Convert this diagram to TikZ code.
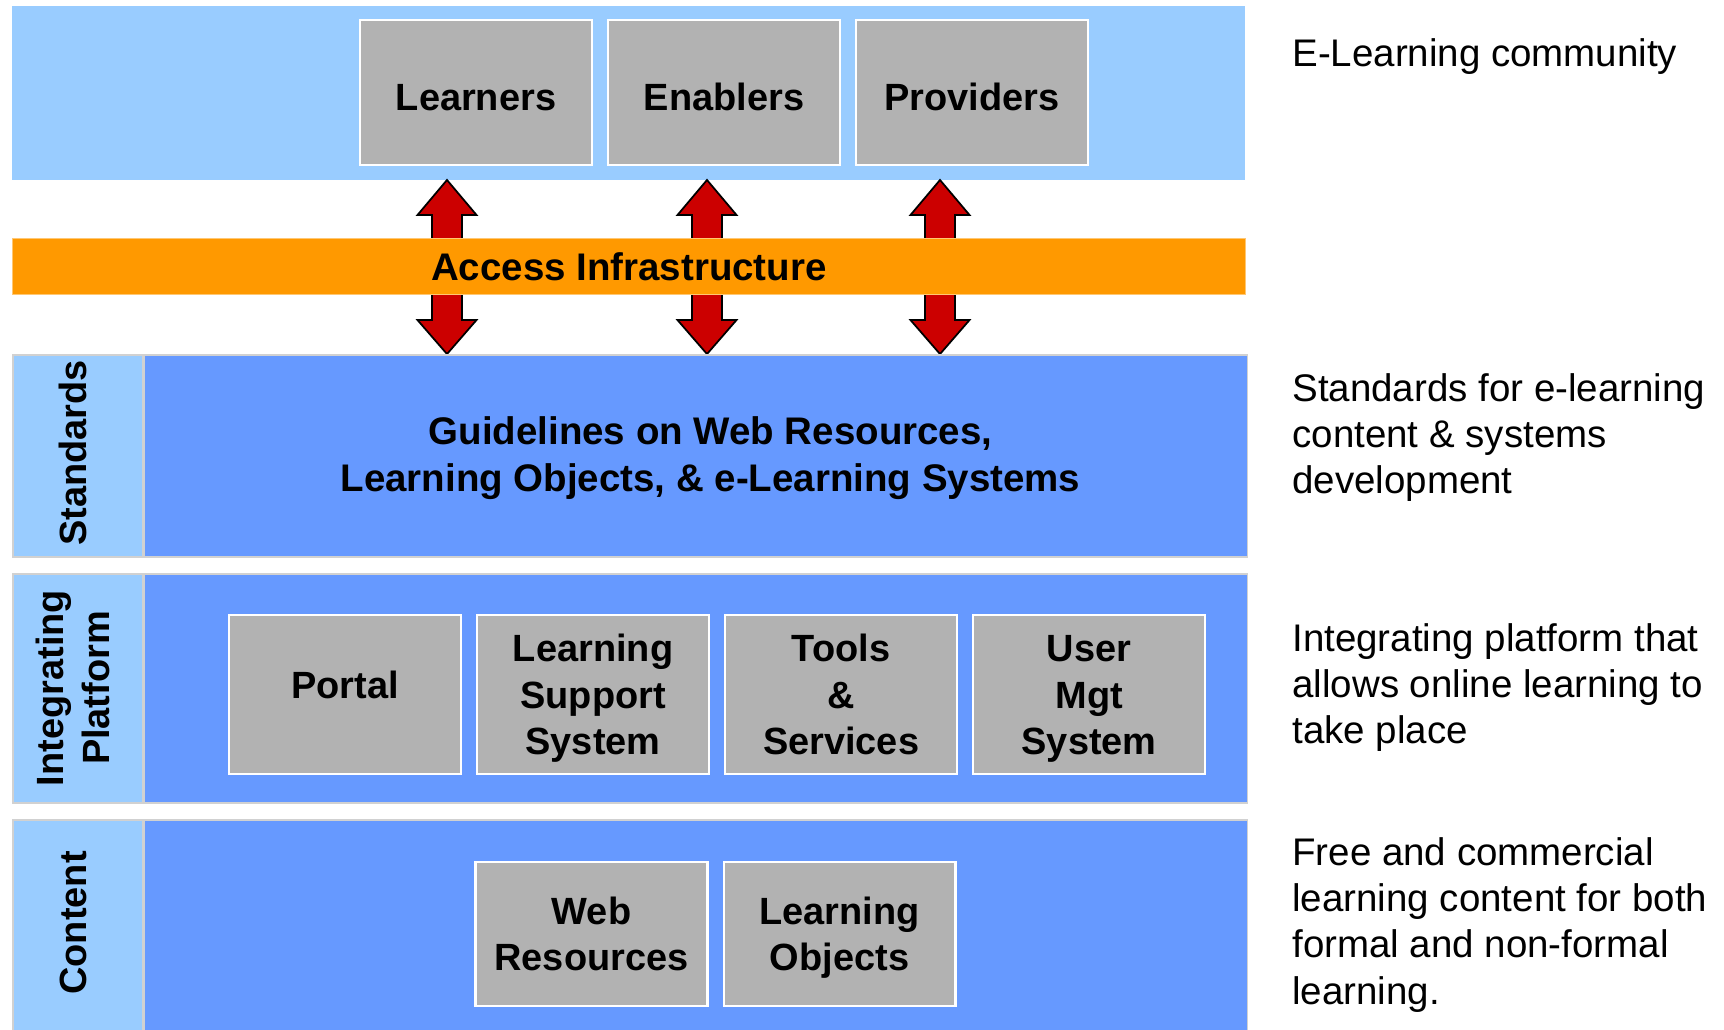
\documentclass[tikz,border=0pt]{standalone}
\usepackage{fontspec}
\setmainfont{Liberation Sans}
\usetikzlibrary{positioning,calc}
\definecolor{skyblue}{HTML}{99CCFF}
\definecolor{bandblue}{HTML}{6699FF}
\definecolor{boxgray}{HTML}{B2B2B2}
\definecolor{accorange}{HTML}{FF9900}
\definecolor{arrowred}{HTML}{CC0000}
\newcommand\topstrut{\rule{0pt}{20.4pt}}
\newcommand\botstrut{\rule[-5pt]{0pt}{5pt}}

\begin{document}
\begin{tikzpicture}[x=0.02cm, y=-0.02cm, node distance=0.28cm,
  band/.style={anchor=north west, inner sep=0pt, minimum width=24.66cm},
  side/.style={anchor=north west, inner sep=0pt, minimum width=2.6cm, fill=skyblue, draw=black!18, line width=1pt},
  main/.style={anchor=north west, inner sep=0pt, minimum width=22.06cm, fill=bandblue, draw=black!18, line width=1pt},
  gbox/.style={fill=boxgray, draw=white, line width=1.2pt, minimum width=4.64cm, inner sep=0pt, align=center,
    font=\fontsize{21.6}{26.6}\selectfont\bfseries},
  sidelbl/.style={rotate=90, align=center, inner sep=0pt, font=\fontsize{21.6}{26.6}\selectfont\bfseries},
  note/.style={anchor=west, align=left, inner sep=0pt, font=\fontsize{21.9}{26.2}\selectfont},
  uparr/.pic={\filldraw[fill=arrowred, draw=black, line width=1pt, line join=miter]
    (-15,0) -- (-15,-23) -- (-29.5,-23) -- (0,-58) -- (29.5,-23) -- (15,-23) -- (15,0);},
  downarr/.pic={\filldraw[fill=arrowred, draw=black, line width=1pt, line join=miter]
    (-15,0) -- (-15,25) -- (-29.5,25) -- (0,59) -- (29.5,25) -- (15,25) -- (15,0);}]
\useasboundingbox[fill=white] (0,0) rectangle (1724,1030);

\node[band, minimum height=3.48cm, fill=skyblue] (comm) at (12,6) {};
\node[gbox, minimum height=2.9cm, text height=20.4pt, text depth=0pt] (learners) at (476,92.5) {Learners};
\node[gbox, minimum height=2.9cm, text height=20.4pt, text depth=0pt, right=of learners] (enablers) {Enablers};
\node[gbox, minimum height=2.9cm, text height=20.4pt, text depth=0pt, right=of enablers] (providers) {Providers};

\node[band, minimum height=1.12cm, fill=accorange, draw=accorange!55!white, line width=0.6pt] (acc) at (12,238) {};
\node[inner sep=0pt, font=\fontsize{21.9}{26}\selectfont\bfseries] (acclbl) at (acc) {Access Infrastructure};
\foreach \ax in {447,707,940} {
  \pic at (\ax,0 |- acc.north) {uparr};
  \pic at (\ax,0 |- acc.south) {downarr};
}

\node[side, minimum height=4.04cm] (stdside) at (12,354) {};
\node[main, minimum height=4.04cm] (stdmain) at (stdside.north east) {};
\node[sidelbl] (stdlbl) at (73,453) {Standards};
\node[xshift=0.29cm, yshift=-0.04cm, align=center, inner sep=0pt, font=\fontsize{21.9}{26.8}\selectfont\bfseries] (guide) at (stdmain) {Guidelines on Web Resources,\\Learning Objects, \& e-Learning Systems};

\node[side, minimum height=4.58cm] (intside) at (12,573) {};
\node[main, minimum height=4.58cm] (intmain) at (intside.north east) {};
\node[sidelbl] (intlbl) at (73,688) {Integrating\\Platform};
\node[gbox, minimum height=3.18cm, text height=15.5pt, text depth=10.9pt] (portal) at (345,694.5) {Portal};
\node[gbox, minimum height=3.18cm, right=of portal] (lss) {\topstrut Learning\\Support\\System\botstrut};
\node[gbox, minimum height=3.18cm, right=of lss] (tools) {\topstrut Tools\\\&\\Services\botstrut};
\node[gbox, minimum height=3.18cm, right=of tools] (usermgt) {\topstrut User\\Mgt\\System\botstrut};

\node[side, minimum height=4.5cm] (conside) at (12,819) {};
\node[main, minimum height=4.5cm] (conmain) at (conside.north east) {};
\node[sidelbl] (conlbl) at (73,923) {Content};
\node[gbox, minimum height=2.88cm] (webres) at (591.5,934) {\topstrut Web\\Resources\botstrut};
\node[gbox, minimum height=2.88cm, right=of webres] (lobj) {\topstrut Learning\\Objects\botstrut};

\node[note] (ncomm) at (1292,57) {E-Learning community};
\node[note] (nstd) at (1292,438) {Standards for e-learning\\content \& systems\\development};
\node[note] (nint) at (1292,688) {Integrating platform that\\allows online learning to\\take place};
\node[note] (ncon) at (1292,925) {Free and commercial\\learning content for both\\formal and non-formal\\learning.};
\end{tikzpicture}
\end{document}
